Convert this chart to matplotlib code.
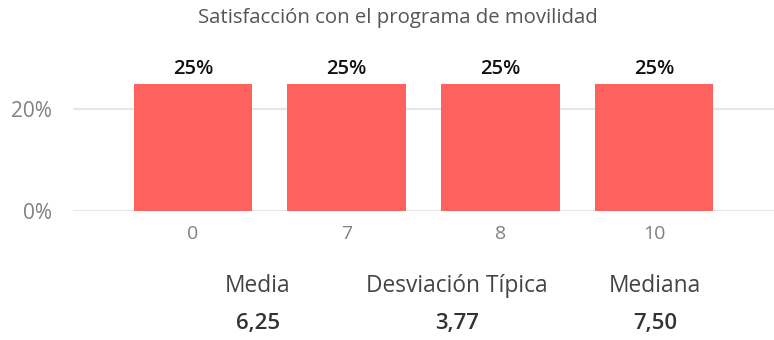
import matplotlib
matplotlib.use("Agg")
import matplotlib.pyplot as plt
from matplotlib.ticker import FixedLocator

plt.rcParams['font.family'] = ['Open Sans', 'DejaVu Sans']

title = "Satisfacción con el programa de movilidad"
categories = ["0", "7", "8", "10"]
shares = [0.25, 0.25, 0.25, 0.25]
y_ticks = [0.0, 0.2]
y_tick_labels = ["0%", "20%"]
stat_names = ["Media", "Desviación Típica", "Mediana"]
stat_values = ["6,25", "3,77", "7,50"]

W, H = 774, 340
fig = plt.figure(figsize=(W / 100, H / 100), dpi=100)

# axes box in pixel units: left 73, right 774, bottom at y=211 (from top), top at y=58
ax = fig.add_axes([73 / W, 1 - 211 / H, (774 - 73) / W, (211 - 58) / H])
x = list(range(len(categories)))
ax.bar(x, shares, width=0.77, color="#FF625E", zorder=2)
ax.set_xlim(-0.78, 3.78)
ax.set_ylim(0, 0.3)

for xi, v in zip(x, shares):
    ax.text(xi, v + 0.008, f"{v * 100:.0f}%", ha="center", va="bottom",
            fontsize=14.5, fontweight="semibold", color="#111111")

ax.yaxis.set_major_locator(FixedLocator(y_ticks))
ax.set_yticklabels(y_tick_labels, color="#808080", fontsize=15)
ax.grid(axis="y", color="#E6E6E6", linewidth=1.5, zorder=0)
ax.set_xticks(x)
ax.set_xticklabels(categories, color="#808080", fontsize=14)
ax.tick_params(axis="both", length=0)
ax.tick_params(axis="x", pad=10)
ax.tick_params(axis="y", pad=15)
for s in ax.spines.values():
    s.set_visible(False)

fig.text(0.5 * (198 + 597) / W, 1 - 18 / H, title, ha="center", va="center",
         fontsize=14.7, color="#555555")

stat_x = [258, 457, 655]
for sx, name, val in zip(stat_x, stat_names, stat_values):
    fig.text(sx / W, 1 - 286 / H, name, ha="center", va="center",
             fontsize=16.4, color="#444444")
    fig.text(sx / W, 1 - 324 / H, val, ha="center", va="center",
             fontsize=16, fontweight="semibold", color="#333333")

fig.savefig("out.png", dpi=100)
